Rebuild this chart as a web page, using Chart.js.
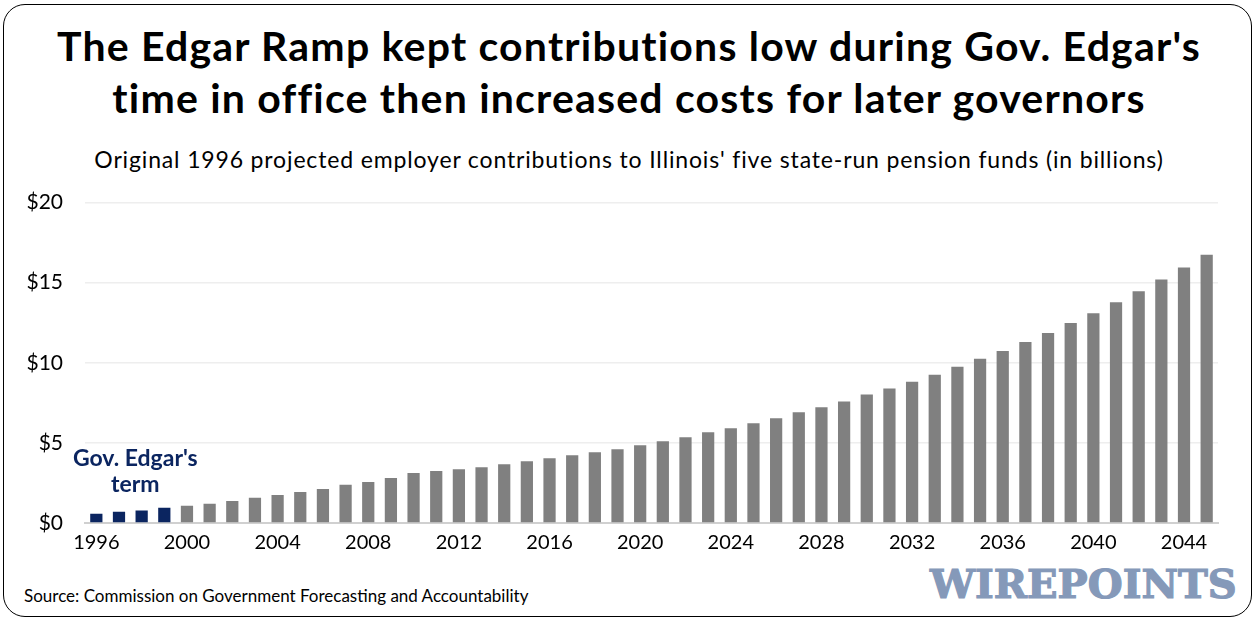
<html>
  <head>
    <script src="https://cdn.jsdelivr.net/npm/chart.js"></script>
    <meta charset="UTF-8" />
    <style>
      body { margin: 0; width: 1258px; height: 624px; background: #fff; font-family: Lato, "Open Sans", sans-serif; overflow: hidden; }
      #frame { position: absolute; left: 3px; top: 4px; width: 1247px; height: 611px; border: 1.5px solid #000; border-radius: 22px; }
      #title { position: absolute; left: 0; top: 20px; width: 1258px; text-align: center; font-weight: 700; font-size: 41px; letter-spacing: 1.2px; line-height: 52px; color: #000; }
      #subtitle { position: absolute; left: 0; top: 145px; width: 1258px; text-align: center; font-size: 23px; letter-spacing: 0.85px; color: #000; }
      #source { position: absolute; left: 24px; top: 585px; font-size: 17px; color: #000; }
      #logo { position: absolute; left: 930px; top: 563px; font-family: "DejaVu Serif", serif; font-weight: 700; font-size: 50px; line-height: 56px; color: #8599b9; -webkit-text-stroke: 1.5px #8599b9; transform-origin: 0 0; white-space: nowrap; }
      #wrap { position: absolute; left: 0; top: 168px; width: 1258px; height: 392px; }
    </style>
  </head>
  <body>
    <div id="frame"></div>
    <div id="title">The Edgar Ramp kept contributions low during Gov. Edgar's<br />time in office then increased costs for later governors</div>
    <div id="subtitle">Original 1996 projected employer contributions to Illinois' five state-run pension funds (in billions)</div>
    <div id="wrap"><canvas id="myChart"></canvas></div>
    <div id="source">Source: Commission on Government Forecasting and Accountability</div>
    <div id="logo">WIREPOINTS</div>
    <script>
      const years = [];
      for (let y = 1996; y <= 2045; y++) years.push(String(y));

      // employer contributions, billions
      const contributions = [
        0.58, 0.70, 0.78, 0.95, 1.07, 1.20, 1.38, 1.57, 1.75, 1.94,
        2.13, 2.38, 2.56, 2.81, 3.12, 3.24, 3.36, 3.48, 3.67, 3.86,
        4.04, 4.23, 4.42, 4.60, 4.85, 5.10, 5.35, 5.66, 5.91, 6.23,
        6.54, 6.92, 7.22, 7.59, 8.02, 8.39, 8.82, 9.26, 9.75, 10.25,
        10.74, 11.30, 11.86, 12.48, 13.10, 13.78, 14.46, 15.20, 15.95, 16.75,
      ];
      const edgarYears = ["1996", "1997", "1998", "1999"];
      const yTicks = [0, 5, 10, 15, 20];

      const navy = "#0b2560";
      const grey = "#808080";

      const edgarLabel = {
        id: "edgarLabel",
        afterDatasetsDraw(chart) {
          const ctx = chart.ctx;
          const x = (chart.scales.x.getPixelForValue(0) + chart.scales.x.getPixelForValue(3)) / 2 + 5;
          const y = chart.scales.y.getPixelForValue(5);
          ctx.save();
          ctx.fillStyle = navy;
          ctx.font = "700 23px Lato";
          ctx.textAlign = "center";
          ctx.textBaseline = "middle";
          ctx.fillText("Gov. Edgar's", x, y + 16);
          ctx.fillText("term", x, y + 42);
          ctx.restore();
        },
      };

      new Chart(document.getElementById("myChart"), {
        type: "bar",
        data: {
          labels: years,
          datasets: [
            {
              data: contributions,
              backgroundColor: years.map(y => (edgarYears.includes(y) ? navy : grey)),
              barPercentage: 0.54,
              categoryPercentage: 1,
            },
          ],
        },
        options: {
          responsive: true,
          maintainAspectRatio: false,
          animation: false,
          layout: { padding: { top: 0, right: 40, left: 0, bottom: 0 } },
          plugins: { legend: { display: false }, tooltip: { enabled: false } },
          scales: {
            x: {
              grid: { display: false, drawTicks: false },
              border: { color: "#d0d0d0", width: 2 },
              ticks: {
                autoSkip: false,
                maxRotation: 0,
                padding: 8,
                color: "#000",
                font: { family: "Lato", size: 20 },
                callback: function (v, i) {
                  return i % 4 === 0 ? years[i] : "";
                },
              },
              afterFit: s => { s.height = 37; },
            },
            y: {
              min: 0,
              max: 20,
              afterBuildTicks: s => { s.ticks = yTicks.map(v => ({ value: v })); },
              grid: { color: "#eeeeee", lineWidth: 1.5, drawTicks: false },
              border: { display: false },
              ticks: {
                padding: 22,
                color: "#000",
                font: { family: "Lato", size: 21 },
                callback: v => "$" + v,
              },
              afterFit: s => { s.width = 85; },
            },
          },
        },
        plugins: [edgarLabel],
      });

      // squeeze logo to its width
      const logo = document.getElementById("logo");
      logo.style.transform = "scaleX(" + 307 / logo.offsetWidth + ") scaleY(0.78)";
    </script>
  </body>
</html>
